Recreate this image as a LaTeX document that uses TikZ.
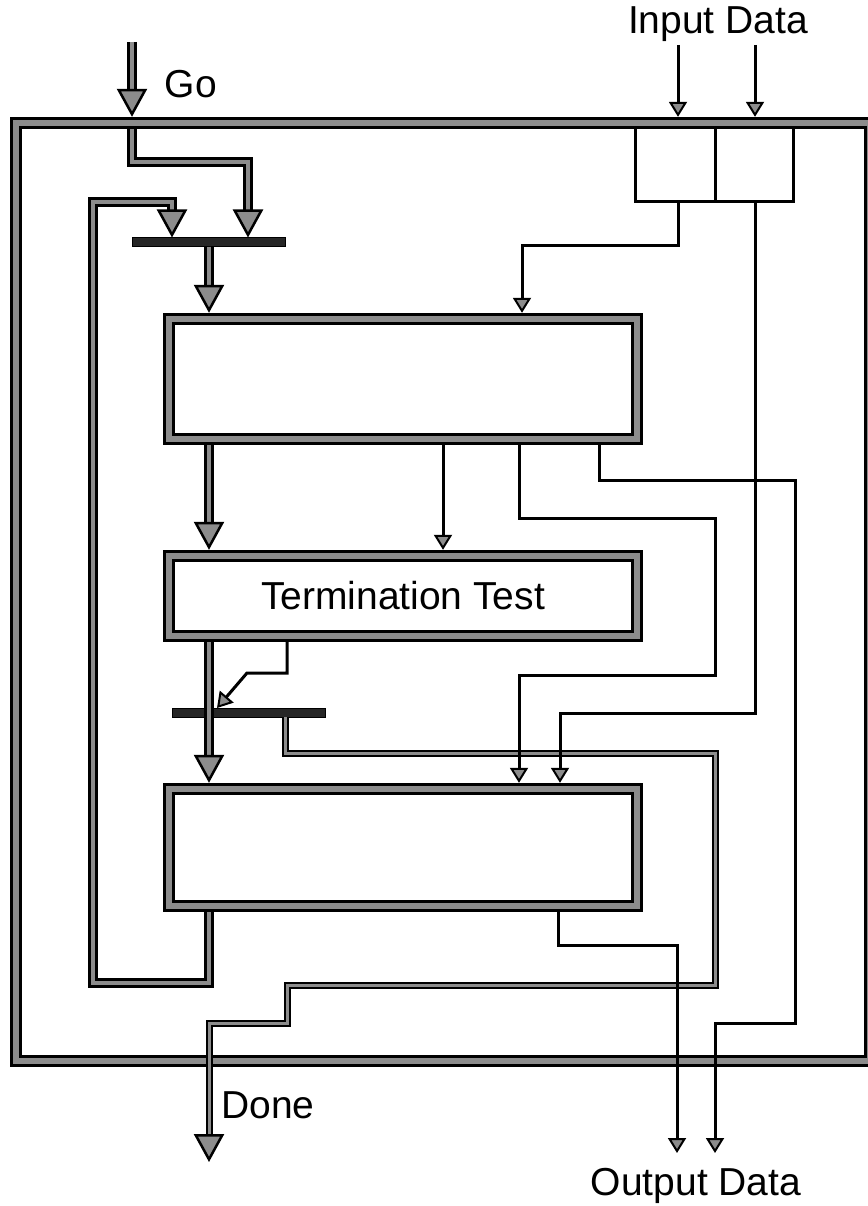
\documentclass[tikz,border=0pt]{standalone}
\usepackage{fontspec}
\setmainfont{Liberation Sans}
\usetikzlibrary{arrows.meta}

\begin{document}
\begin{tikzpicture}[x=1pt,y=-1pt,
  font=\fontsize{39}{46}\selectfont,
  band/.style={draw=black,line width=3.2pt,double=black!45,double distance=6pt,line join=miter},
  pipe/.style={draw=black,line width=2.6pt,double=black!45,double distance=4.5pt,line join=miter},
  slim/.style={draw=black,line width=2pt,double=black!45,double distance=3pt,line join=miter},
  wire/.style={draw=black,line width=3pt,line join=miter},
  box/.style={band,minimum width=468pt,inner sep=0pt,outer sep=6.2pt},
  bar/.style={draw=black,line width=1pt,fill=black!85,minimum width=153pt,minimum height=9pt,inner sep=0pt,outer sep=0pt},
  buf/.style={draw=black,line width=3pt,minimum height=79pt,inner sep=0pt,outer sep=0pt},
  lbl/.style={inner sep=2pt},
  bigtip/.style={-{Triangle[length=28pt,width=30pt,fill=black!45,line width=2.5pt]}},
  smalltip/.style={-{Triangle[length=15pt,width=18pt,fill=black!45,line width=2pt]}}]
\useasboundingbox (0,0) rectangle (867,1206);

% input buffers and system frame
\node[buf,minimum width=80pt] (bufa) at (675,162.5) {};
\node[buf,minimum width=78pt] (bufb) at (754,162.5) {};
\node[band,minimum width=854pt,minimum height=938pt,inner sep=0pt,outer sep=6.2pt] (sys) at (443,592) {};

\node[box,minimum height=120pt] (body) at (403,379) {};
\node[box,minimum height=80pt] (test) at (403,596) {Termination Test};
\node[box,minimum height=117pt] (fin) at (403,847.5) {};

\node[bar] (join) at (209,242) {};
\node[bar] (rdy) at (248.5,712.5) {};

\node[lbl] (golbl) at (191,84) {Go};
\node[lbl] (inlbl) at (718,24) {Input Data};
\node[lbl] (donelbl) at (268,1105) {Done};
\node[lbl] (outlbl) at (696,1186) {Output Data};

\coordinate (go) at (132,42);
\coordinate (goin) at (132,129);
\coordinate (done) at (209,1162);
\coordinate (outa) at (677,1153);
\coordinate (outb) at (715,1153);

% control flow
\draw[pipe,bigtip] (go) -- (go |- sys.north);
\draw[pipe,bigtip] (goin) |- (248,162) -- (248,0 |- join.north);
\draw[pipe,bigtip] (209,0 |- fin.south) |- (93,983) |- (172,202) -- (172,0 |- join.north);
\draw[pipe,bigtip] (join.south) -- (join.south |- body.north);
\draw[pipe,bigtip] (209,0 |- body.south) -- (209,0 |- test.north);
\draw[pipe,bigtip] (209,0 |- test.south) -- (209,0 |- fin.north);
\draw[wire,smalltip] (287,0 |- test.south) |- (247,673) -- (217,0 |- rdy.north);
\draw[slim,bigtip] (285,0 |- rdy.south) |- (715,753) |- (287,985) |- (209,1023) -- (done);

% data flow
\draw[wire,smalltip] (678,45) -- (678,0 |- sys.north);
\draw[wire,smalltip] (755,45) -- (755,0 |- sys.north);
\draw[wire,smalltip] (678,0 |- bufa.south) |- (522,245) -- (522,0 |- body.north);
\draw[wire,smalltip] (755,0 |- bufb.south) |- (560,713) -- (560,0 |- fin.north);
\draw[wire,smalltip] (443,0 |- body.south) -- (443,0 |- test.north);
\draw[wire,smalltip] (519,0 |- body.south) |- (715,518) |- (519,675) -- (519,0 |- fin.north);
\draw[wire,smalltip] (599,0 |- body.south) |- (795,480) |- (715,1023) -- (outb);
\draw[wire,smalltip] (558,0 |- fin.south) |- (677,945) -- (outa);
\end{tikzpicture}
\end{document}
